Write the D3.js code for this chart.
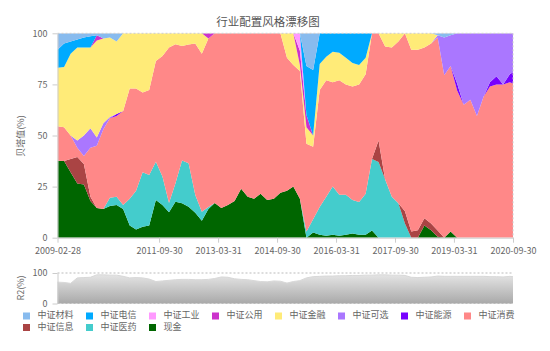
<!DOCTYPE html>
<html><head><meta charset="utf-8">
<script src="https://cdn.jsdelivr.net/npm/d3@7"></script>
<style>
body{margin:0;background:#fff}
svg{display:block}
text{font-family:"Noto Sans CJK SC","Noto Sans",sans-serif}
</style>
</head><body>
<svg id="c" width="550" height="351"></svg>
<script>
// ---- data ----
const chartTitle = "行业配置风格漂移图";
const seriesNames = ["中证材料","中证电信","中证工业","中证公用","中证金融","中证可选","中证能源","中证消费","中证信息","中证医药","现金"];
const seriesColors = ["#88bbee","#00aaff","#ff99ff","#cc33cc","#ffeb78","#aa77ff","#7700ff","#ff8888","#aa4444","#44cccc","#006600"];
// sample months: offset (in months) from 2009-02
const monthOffsets = d3.range(0, 139, 2).concat([139]);
const xTickLabels = ["2009-02-28","2011-09-30","2013-03-31","2014-09-30","2016-03-31","2017-09-30","2019-03-31","2020-09-30"];
const yTicks = [0, 25, 50, 75, 100];
const r2Ticks = [0, 100];

const cash = [37.7,37.5,32,26.5,26,18,14.5,14,15.5,16,
  14,6,4,5.4,6,18.4,16,12.5,17.6,16.8,
  15.2,12.2,8.3,14,17,14.5,16,18,24,20,
  19,21.5,18.5,19,22,23,25,19,0,2.5,
  1.5,1,1.5,1,1.5,2,1.5,1.5,3.5,0,
  0,0,0,0,0,0,6,3.7,0.5,0,
  3,0,0,0,0,0,0,0,0,0,
  0];
const pharma = [0,0,0,0,0,0,0,0,4,4,
  2,13,19,26.6,24.7,18.8,13.9,4.5,9,21,
  21.2,8.7,4.4,1,0,0,0,0,0,0,
  0,0,0,0,0,0,0,0,3,6.5,
  13.5,19,23.5,20,19.5,16.5,16,20,35,37,
  28.5,20,16.8,7,0,0,0,0,0,0,
  0,0,0,0,0,0,0,0,0,0,
  0];
const infoTech = [0,0,6.5,13,10,2,0,0,0,0,
  0,0,0,0,0,0,0,0,0,0,
  0,0,0,0,0,0,0,0,0,0,
  0,0,0,0,0,0,0,0,0,0,
  0,0,0,0,0,0,0,0,0,10.5,
  0,0,0,6,3,3.7,3.5,3.3,3,0,
  0,0,0,0,0,0,0,0,0,0,
  0];
const consumer = [16.8,16.5,11.5,4.5,4,24,30.5,39,39,39.5,
  46,54,50,39,41.6,49.3,59,76,68,56,
  58.1,74.1,77.3,82.5,83,85.5,84,82,76,80,
  81,78.5,81.5,81,78,65,59.5,62.5,43,35.5,
  57.3,57,51,56,54,55.5,57.5,58.5,61.5,52.5,
  65,73,79.2,87,89,88.3,83.5,88,94.5,79.5,
  81,72,65,67.5,59.5,69,74,75,75,76,
  75.5];
const energy = [0,0,0,0,0,0,0,0,0,1,
  0,0,0,0,0,0,0,0,0,0,
  0,0,0,0,0,0,0,0,0,0,
  0,0,0,0,0,0,0,0,0,0,
  0,0,0,0,0,0,0,0,0,0,
  0,0,0,0,0,0,0,0,0,0,
  0,3.5,0,0,0,0,2,4,0,4,
  5.5];
const discretionary = [0,0,0,3.5,10,9.5,4,3,0.5,0,
  0,0,0,0,0,0,0,0,0,0,
  0,0,0,0,0,0,0,0,0,0,
  0,0,0,0,0,0,0,0,0,0,
  0,0,0,0,0,0,0,0,0,0,
  0,0,0,0,0,0,0,0,1,18.5,
  15,24.5,35,32.5,40.5,31,24,21,25,20,
  19];
const finance = [28.7,29.5,40,45.5,43,39.5,47.5,41.5,39,35.5,
  38,27,27,29,27.7,13.5,11.1,7,5.4,6.2,
  5.5,5,10,0,0,0,0,0,0,0,
  0,0,0,0,0,12,15.5,3,8,5.5,
  12.7,11.5,15,13.5,13,11.5,9.5,8,0,0,
  6.5,7,4,0,8,8,7,5,0,0,
  0,0,0,0,0,0,0,0,0,0,
  0];
const utilities = [0,0,0,0,0,0,2.5,0,0,0,
  0,0,0,0,0,0,0,0,0,0,
  0,0,0,2.5,0,0,0,0,0,0,
  0,0,0,0,0,0,0,7,6,0,
  0,0,0,0,0,0,0,0,0,0,
  0,0,0,0,0,0,0,0,0,0,
  0,0,0,0,0,0,0,0,0,0,
  0];
const industry = [0,0,0,0,0,0,0,0,0,0,
  0,0,0,0,0,0,0,0,0,0,
  0,0,0,0,0,0,0,0,0,0,
  0,0,0,0,0,0,0,8.5,0,0,
  0,0,0,0,0,0,0,0,0,0,
  0,0,0,0,0,0,0,0,0,0,
  0,0,0,0,0,0,0,0,0,0,
  0];
const telecom = [8.8,11.5,6,4,5,5.5,0,0,0,0,
  0,0,0,0,0,0,0,0,0,0,
  0,0,0,0,0,0,0,0,0,0,
  0,0,0,0,0,0,0,0,24,32,
  15,11.5,9,9.5,12,14.5,15.5,12,0,0,
  0,0,0,0,0,0,0,0,0,0,
  0,0,0,0,0,0,0,0,0,0,
  0];
const materials = [8,5,4,3,2,1.5,1,2.5,2,4,
  0,0,0,0,0,0,0,0,0,0,
  0,0,0,0,0,0,0,0,0,0,
  0,0,0,0,0,0,0,0,16,18,
  0,0,0,0,0,0,0,0,0,0,
  0,0,0,0,0,0,0,0,1,2,
  1,0,0,0,0,0,0,0,0,0,
  0];
const r2 = [70,69,66,84,85,86,94,94,93,93,
  89,84,85,84,80,72,74,76,78,79,
  79,78,78,79,82,87,86,81,79,78,
  75,72,71,74,73,67,72,75,84,88,
  89,90,90,91,91,92,92,93,93,94,
  94,93,93,92,86,85,86,87,90,89,
  89,89,89,89,89,89,88,88,87,89,
  88];

const seriesValues = [materials, telecom, industry, utilities, finance, discretionary, energy, consumer, infoTech, pharma, cash];

// ---- build table ----
const base = new Date(2009, 1, 1);
const monthEnd = k => d3.timeDay.offset(d3.timeMonth.offset(base, k + 1), -1);
const rows = monthOffsets.map((k, i) => {
  const r = {date: monthEnd(k)};
  seriesNames.forEach((n, j) => r[n] = seriesValues[j][i]);
  r.r2 = r2[i];
  return r;
});

const svg = d3.select("#c");
const L = 57.5, R = 513, T = 33.3, B = 237.7;
const x = d3.scaleTime().domain(d3.extent(rows, d => d.date)).range([L, R]);
const y = d3.scaleLinear().domain([0, 100]).range([B, T]);

// stacking: last name at bottom
const stackKeys = seriesNames.slice().reverse();
const stacked = d3.stack().keys(stackKeys)(rows);
const color = d3.scaleOrdinal().domain(seriesNames).range(seriesColors);
const area = d3.area().x(d => x(d.data.date)).y0(d => y(d[0])).y1(d => y(Math.min(100, d[1])));

svg.append("defs").append("clipPath").attr("id", "clip")
  .append("rect").attr("x", L).attr("y", T).attr("width", R - L).attr("height", B - T);

svg.append("g").attr("clip-path", "url(#clip)").selectAll("path").data(stacked).join("path")
  .attr("fill", d => color(d.key)).attr("d", area);

// top / right dotted borders
svg.append("line").attr("x1", L).attr("x2", R).attr("y1", T).attr("y2", T)
  .attr("stroke", "#ccc").attr("stroke-dasharray", "2,2");
svg.append("line").attr("x1", R).attr("x2", R).attr("y1", T).attr("y2", B)
  .attr("stroke", "#ccc").attr("stroke-dasharray", "2,2");

const styleAxis = g => {
  g.select(".domain").attr("stroke", "#ccc");
  g.selectAll(".tick line").attr("stroke", "#ccc");
  g.selectAll(".tick text").attr("fill", "#666").style("font-size", "9px");
};

svg.append("g").attr("transform", `translate(${L},0)`)
  .call(d3.axisLeft(y).tickValues(yTicks).tickSize(5).tickPadding(5).tickSizeOuter(0))
  .call(styleAxis);

const parse = d3.timeParse("%Y-%m-%d");
svg.append("g").attr("transform", `translate(0,${B})`)
  .call(d3.axisBottom(x).tickValues(xTickLabels.map(parse)).tickFormat(d3.timeFormat("%Y-%m-%d"))
    .tickSize(5).tickPadding(4.5).tickSizeOuter(0))
  .call(styleAxis);

svg.append("text").attr("transform", "translate(22,136) rotate(-90)")
  .attr("text-anchor", "middle").attr("dominant-baseline", "middle")
  .attr("fill", "#666").style("font-size", "9px").text("贝塔值(%)");

svg.append("text").attr("x", 268).attr("y", 22.5).attr("text-anchor", "middle")
  .attr("dominant-baseline", "middle").attr("fill", "#555").style("font-size", "11.5px").text(chartTitle);

// ---- R2 chart ----
const T2 = 273, B2 = 303.5;
const y2 = d3.scaleLinear().domain([0, 100]).range([B2, T2]);
const grad = svg.select("defs").append("linearGradient").attr("id", "g2")
  .attr("x1", 0).attr("y1", 0).attr("x2", 0).attr("y2", 1);
grad.append("stop").attr("offset", "0%").attr("stop-color", "#e4e4e4");
grad.append("stop").attr("offset", "100%").attr("stop-color", "#a9a9a9");
svg.append("path").datum(rows).attr("fill", "url(#g2)")
  .attr("d", d3.area().x(d => x(d.date)).y0(B2).y1(d => y2(d.r2)));
svg.append("path").datum(rows).attr("fill", "none").attr("stroke", "#d8d8d8").attr("stroke-width", 1)
  .attr("d", d3.line().x(d => x(d.date)).y(d => y2(d.r2)));
r2Ticks.forEach(v => svg.append("line").attr("x1", L).attr("x2", R).attr("y1", y2(v)).attr("y2", y2(v))
  .attr("stroke", "#bbb").attr("stroke-dasharray", "2,2"));
svg.append("g").attr("transform", `translate(${L},0)`)
  .call(d3.axisLeft(y2).tickValues(r2Ticks).tickSize(5).tickPadding(5).tickSizeOuter(0))
  .call(styleAxis);
svg.append("text").attr("transform", "translate(22,288) rotate(-90)")
  .attr("text-anchor", "middle").attr("dominant-baseline", "middle")
  .attr("fill", "#666").style("font-size", "9px").text("R2(%)");

// ---- legend ----
const lg = svg.append("g");
seriesNames.forEach((n, i) => {
  const col = i % 8, row = Math.floor(i / 8);
  const gx = 26.5 + col * 63, gy = 316 + row * 11.5;
  lg.append("rect").attr("x", gx - 3.5).attr("y", gy - 3.5).attr("width", 7).attr("height", 7)
    .attr("fill", color(n));
  lg.append("text").attr("x", gx + 11).attr("y", gy).attr("dominant-baseline", "middle")
    .attr("fill", "#666").style("font-size", "9px").text(n);
});
</script>
</body></html>
